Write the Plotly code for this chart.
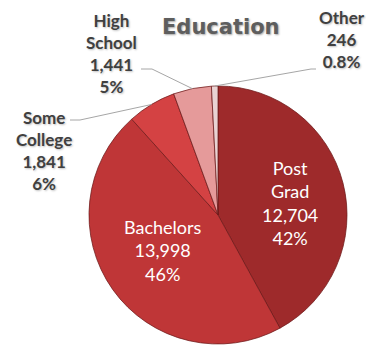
import math
import plotly.graph_objects as go

# Education breakdown
categories = ["Post Grad", "Bachelors", "Some College", "High School", "Other"]
counts = [12704, 13998, 1841, 1441, 246]
colors = ["#9E2A2B", "#BF3637", "#D44243", "#E59A9A", "#E9D3D3"]

W, H = 366, 349

# pie placement in pixels (centre and radius)
CX, CY, R = 218, 215, 129


def fx(x):
    return x / W


def fy(y):
    return 1 - y / H


total = sum(counts)
pcts = [c / total * 100 for c in counts]


def pct_text(p):
    return f"{p:.1f}%" if p < 1 else f"{p:.0f}%"


def label_text(i):
    name = categories[i].replace(" ", "<br>")
    return f"{name}<br>{counts[i]:,}<br>{pct_text(pcts[i])}"


# mid angle of each slice, clockwise from 12 o'clock
mid_angles = []
acc = 0
for c in counts:
    mid_angles.append((acc + c / 2) / total * 2 * math.pi)
    acc += c


def edge_point(i):
    a = mid_angles[i]
    return CX + R * math.sin(a), CY - R * math.cos(a)


fig = go.Figure(
    go.Pie(
        labels=categories,
        values=counts,
        sort=False,
        direction="clockwise",
        rotation=0,
        textinfo="none",
        hoverinfo="label+value+percent",
        marker=dict(colors=colors, line=dict(color="rgba(110,25,25,0.75)", width=1)),
        domain=dict(x=[fx(CX - R), fx(CX + R)], y=[fy(CY + R), fy(CY - R)]),
        showlegend=False,
    )
)

annotations = []
shapes = []

# title
annotations.append(dict(
    x=fx(221), y=fy(27), xref="paper", yref="paper", showarrow=False,
    text="<b>Education</b>", xanchor="center", yanchor="middle",
    font=dict(family="DejaVu Sans", size=21, color="#5E5E5E",
              shadow="1px 1px 2px rgba(0,0,0,0.35)"),
))

# labels inside the two large slices
inside = {0: (290, 203), 1: (163, 250)}
for i, (x, y) in inside.items():
    annotations.append(dict(
        x=fx(x), y=fy(y), xref="paper", yref="paper", showarrow=False,
        text=label_text(i), xanchor="center", yanchor="middle",
        font=dict(family="Lato", size=18, color="#FFFFFF"),
    ))

# outside labels with leader lines: label centre, start of line, elbow
outside = {
    2: ((44, 150), (70, 120), (80, 120)),
    3: ((111, 53), (141, 69), (152, 69)),
    4: ((342, 39), (316, 69), (311, 69)),
}
for i, ((lx, ly), (sx, sy), (ex, ey)) in outside.items():
    annotations.append(dict(
        x=fx(lx), y=fy(ly), xref="paper", yref="paper", showarrow=False,
        text="<b>" + label_text(i) + "</b>", xanchor="center", yanchor="middle",
        font=dict(family="Lato", size=17, color="#404040",
                  shadow="1px 1px 2px rgba(0,0,0,0.25)"),
    ))
    px_, py_ = edge_point(i)
    shapes.append(dict(
        type="path", xref="paper", yref="paper",
        path=f"M {fx(sx)} {fy(sy)} L {fx(ex)} {fy(ey)} L {fx(px_)} {fy(py_)}",
        line=dict(color="#A6A6A6", width=1),
    ))

fig.update_layout(
    width=W, height=H,
    margin=dict(l=0, r=0, t=0, b=0),
    paper_bgcolor="white",
    plot_bgcolor="white",
    annotations=annotations,
    shapes=shapes,
)

fig.write_html("out.html")
